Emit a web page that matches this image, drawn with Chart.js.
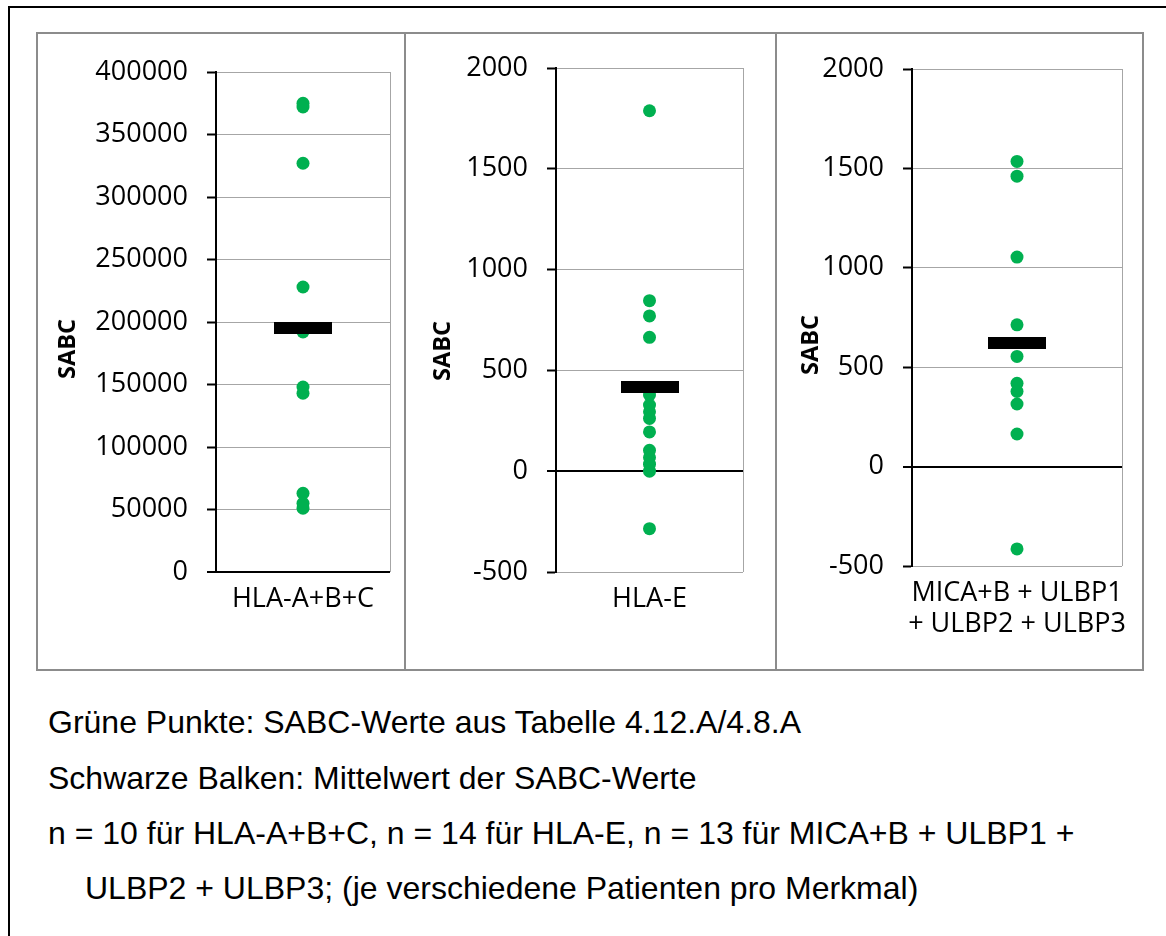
<!DOCTYPE html>
<html>
<head>
<meta charset="utf-8">
<script src="https://cdn.jsdelivr.net/npm/chart.js@4.4.1/dist/chart.umd.min.js"></script>
<style>
body { margin: 0; background: #fff; width: 1166px; height: 936px; position: relative; overflow: hidden; font-family: 'Liberation Sans', Arial, sans-serif; }
.frame { position: absolute; left: 8px; top: 6px; width: 1200px; height: 1000px; border-left: 2px solid #000; border-top: 2px solid #000; }
.panel { position: absolute; border: 2px solid #8c8c8c; box-sizing: border-box; }
canvas { position: absolute; }
.ytitle { position: absolute; font: bold 23.5px 'Open Sans'; color: #000; transform: translate(-50%, -50%) rotate(-90deg); white-space: nowrap; }
.caption { position: absolute; font-size: 32px; color: #000; white-space: nowrap; line-height: 1; }
</style>
</head>
<body>
<div class="frame"></div>
<div id="charts"></div>
<div class="caption" style="left:48px; top:706px">Grüne Punkte: SABC-Werte aus Tabelle 4.12.A/4.8.A</div>
<div class="caption" style="left:48px; top:762px">Schwarze Balken: Mittelwert der SABC-Werte</div>
<div class="caption" style="left:48px; top:817px">n = 10 für HLA-A+B+C, n = 14 für HLA-E, n = 13 für MICA+B + ULBP1 +</div>
<div class="caption" style="left:85px; top:872px">ULBP2 + ULBP3; (je verschiedene Patienten pro Merkmal)</div>
<script>
// one x category per panel, mean bar and single values
const categories = ['HLA-A+B+C', 'HLA-E', ['MICA+B + ULBP1', '+ ULBP2 + ULBP3']];
const hlaABC = [375000, 372000, 327000, 228000, 192000, 148000, 143000, 63000, 55000, 51000];
const hlaE = [1788, 846, 770, 664, 378, 328, 295, 262, 195, 104, 68, 35, 0, -285];
const micaUlbp = [1535, 1461, 1054, 713, 554, 419, 378, 315, 164, -414];
const means = [195400, 417, 621];
const yMin = [0, -500, -500];
const yMax = [400000, 2000, 2000];
const yStep = [50000, 500, 500];
const yTitle = 'SABC';

const green = '#00b050';
const gridGrey = '#a6a6a6';
const tickFont = { family: "'Open Sans'", size: 27, lineHeight: 1.15 };

// page boxes: panel frame and plot area
const layout = [
    { box: [36, 32, 406, 671], plot: [216, 72, 390, 572], title: [66, 349] },
    { box: [404, 32, 777, 671], plot: [556, 68, 743, 572], title: [441, 351] },
    { box: [775, 32, 1144, 671], plot: [912, 69, 1122, 566], title: [809, 345] }
];

const meanMark = document.createElement('canvas');
meanMark.width = 58;
meanMark.height = 12;
meanMark.getContext('2d').fillRect(0, 0, 58, 12);

const makePanel = (i, values) => {
    const p = layout[i];
    const [bl, bt, br, bb] = p.box;
    const [pl, pt, pr, pb] = p.plot;
    const holder = document.getElementById('charts');

    let frame = holder.appendChild(document.createElement('div'));
    frame.className = 'panel';
    Object.assign(frame.style, { left: bl + 'px', top: bt + 'px', width: (br - bl) + 'px', height: (bb - bt) + 'px' });

    let cv = holder.appendChild(document.createElement('canvas'));
    cv.width = br - bl;
    cv.height = bb - bt;
    Object.assign(cv.style, { left: bl + 'px', top: bt + 'px', width: cv.width + 'px', height: cv.height + 'px' });

    let title = holder.appendChild(document.createElement('div'));
    title.className = 'ytitle';
    title.innerText = yTitle;
    Object.assign(title.style, { left: p.title[0] + 'px', top: p.title[1] + 'px' });

    new Chart(cv, {
        type: 'scatter',
        data: {
            datasets: [
                { data: [{ x: 1, y: means[i] }], pointStyle: meanMark, pointRadius: 6 },
                { data: values.map(v => ({ x: 1, y: v })), backgroundColor: green, borderWidth: 0, pointRadius: 6.5 }
            ]
        },
        options: {
            responsive: false,
            animation: false,
            events: [],
            layout: { padding: { left: 0, top: pt - bt, right: br - pr, bottom: 0 } },
            plugins: { legend: { display: false }, tooltip: { enabled: false } },
            scales: {
                x: {
                    type: 'linear', min: 0, max: 2,
                    afterFit: s => { s.height = bb - pb; },
                    border: { display: false },
                    grid: { drawTicks: false, color: c => c.tick && c.tick.value === 2 ? gridGrey : 'transparent' },
                    ticks: {
                        stepSize: 1, autoSkip: false, maxRotation: 0, padding: 12,
                        color: '#000', font: tickFont,
                        callback: v => v === 1 ? categories[i] : ''
                    }
                },
                y: {
                    min: yMin[i], max: yMax[i],
                    afterFit: s => { s.width = pl - bl; },
                    border: { color: '#000', width: 2 },
                    grid: {
                        color: c => c.tick && c.tick.value === 0 ? '#000' : gridGrey,
                        lineWidth: c => c.tick && c.tick.value === 0 ? 2 : 1,
                        tickColor: '#000', tickWidth: 2, tickLength: 9
                    },
                    ticks: { stepSize: yStep[i], padding: 19, color: '#000', font: tickFont, callback: v => String(v) }
                }
            }
        }
    });
};

makePanel(0, hlaABC);
makePanel(1, hlaE);
makePanel(2, micaUlbp);
</script>
</body>
</html>
